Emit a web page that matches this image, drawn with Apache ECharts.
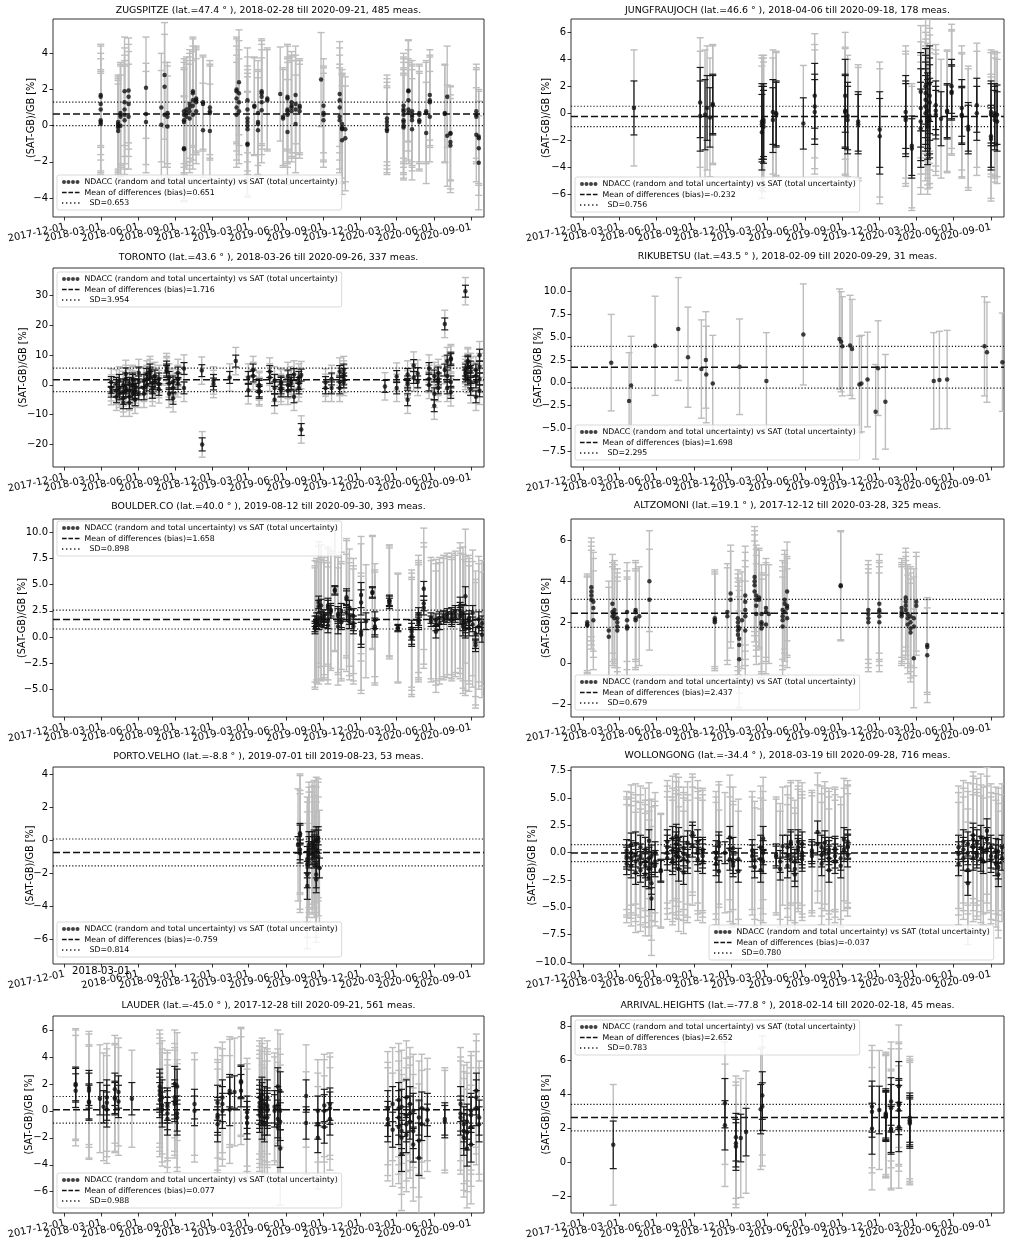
<!DOCTYPE html>
<html>
<head>
<meta charset="utf-8">
<script src="https://cdn.jsdelivr.net/npm/echarts@6/dist/echarts.min.js"></script>
<style>
html, body { margin: 0; padding: 0; background: #fff; }
#main { width: 1014px; height: 1248px; }
</style>
</head>
<body>
<div id="main"></div>
<script>
// quarterly date ticks on every x axis
var xTicks = ['2017-12-01', '2018-03-01', '2018-06-01', '2018-09-01', '2018-12-01', '2019-03-01',
              '2019-06-01', '2019-09-01', '2019-12-01', '2020-03-01', '2020-06-01', '2020-09-01'];
var xStart = '2017-11-02';
var xEnd = '2020-10-03';

var titles = [
    'ZUGSPITZE (lat.=47.4 ° ), 2018-02-28 till 2020-09-21, 485 meas.',
    'JUNGFRAUJOCH (lat.=46.6 ° ), 2018-04-06 till 2020-09-18, 178 meas.',
    'TORONTO (lat.=43.6 ° ), 2018-03-26 till 2020-09-26, 337 meas.',
    'RIKUBETSU (lat.=43.5 ° ), 2018-02-09 till 2020-09-29, 31 meas.',
    'BOULDER.CO (lat.=40.0 ° ), 2019-08-12 till 2020-09-30, 393 meas.',
    'ALTZOMONI (lat.=19.1 ° ), 2017-12-12 till 2020-03-28, 325 meas.',
    'PORTO.VELHO (lat.=-8.8 ° ), 2019-07-01 till 2019-08-23, 53 meas.',
    'WOLLONGONG (lat.=-34.4 ° ), 2018-03-19 till 2020-09-28, 716 meas.',
    'LAUDER (lat.=-45.0 ° ), 2017-12-28 till 2020-09-21, 561 meas.',
    'ARRIVAL.HEIGHTS (lat.=-77.8 ° ), 2018-02-14 till 2020-02-18, 45 meas.'
];
var biasVals = [0.651, -0.232, 1.716, 1.698, 1.658, 2.437, -0.759, -0.037, 0.077, 2.652];
var sdVals   = [0.653, 0.756, 3.954, 2.295, 0.898, 0.679, 0.814, 0.780, 0.988, 0.783];

var yTicks = [
    [-4, -2, 0, 2, 4],
    [-6, -4, -2, 0, 2, 4, 6],
    [-20, -10, 0, 10, 20, 30],
    [-7.5, -5, -2.5, 0, 2.5, 5, 7.5, 10],
    [-5, -2.5, 0, 2.5, 5, 7.5, 10],
    [-2, 0, 2, 4, 6],
    [-6, -4, -2, 0, 2, 4],
    [-10, -7.5, -5, -2.5, 0, 2.5, 5, 7.5],
    [-6, -4, -2, 0, 2, 4, 6],
    [-2, 0, 2, 4, 6, 8]
];
var yRanges = [[-5.05, 5.9], [-7.68, 6.99], [-27.6, 39.3], [-9.26, 12.6], [-7.65, 11.27],
               [-2.6, 7.02], [-7.52, 4.42], [-10.18, 7.84], [-7.58, 7.04], [-2.96, 8.63]];
var yDecimals = [0, 0, 0, 1, 1, 0, 0, 1, 0, 0];

// per station: [date, random unc., total unc., [differences in %]]
var zugspitze = [
    ['2018-02-28', 0, 2.8, [1.7, 1.6, 1.2, 0.9, 0.3, 0.2, 0.1]],
    ['2018-04-12', 0, 2.6, [0.1, 0.0, -0.1, -0.3, 0.2]],
    ['2018-04-18', 0, 2.8, [0.6, 0.5, 0.7, 0.0]],
    ['2018-04-28', 0, 3.0, [1.9, 1.3, 0.9, 0.6, 0.3]],
    ['2018-05-08', 0, 2.9, [1.95, 1.6, 1.2, 0.5]],
    ['2018-06-20', 0, 2.8, [2.1, 0.65, 0.2]],
    ['2018-07-28', 0, 3.0, [1.0, 0.05]],
    ['2018-08-05', 0, 2.9, [2.8, 2.15, 0.6]],
    ['2018-08-12', 0, 2.8, [0.7, 0.5, -0.05]],
    ['2018-09-22', 0, 2.9, [0.8, 0.6, 0.3, 0.2, -1.3, -1.25]],
    ['2018-09-28', 0, 2.9, [0.9, 0.7, 0.5]],
    ['2018-10-06', 0, 3.0, [1.0, 0.8, 1.2, 0.4]],
    ['2018-10-14', 0, 3.0, [1.4, 1.8, 1.9, 1.1, 0.6]],
    ['2018-10-22', 0, 2.9, [1.5, 1.4, 1.3, 0.8]],
    ['2018-11-08', 0, 2.6, [1.3, 1.2, -0.25]],
    ['2018-11-25', 0, 2.6, [1.0, 0.8, 0.7, -0.3]],
    ['2019-01-30', 0, 2.9, [2.0, 1.9, 1.5, 1.0, 0.6]],
    ['2019-02-05', 0, 2.9, [2.4, 1.3, 0.8, 1.8]],
    ['2019-02-26', 0, 2.9, [1.4, 0.9, 0.4, 0.2, 0.0, -0.2, -1.0, -1.05]],
    ['2019-03-15', 0, 2.7, [1.1, 1.05]],
    ['2019-03-24', 0, 2.9, [0.2, 0.1, -0.25, 0.7]],
    ['2019-04-02', 0, 2.9, [0.85, 1.3, 1.6, 1.8, 1.9]],
    ['2019-04-16', 0, 2.8, [1.5, 1.4]],
    ['2019-05-18', 0, 2.6, [1.75]],
    ['2019-05-25', 0, 2.7, [0.5, 0.4]],
    ['2019-06-05', 0, 2.9, [1.6, 1.5, 0.9, 0.8, 0.6, -0.35]],
    ['2019-06-15', 0, 2.8, [1.1, 1.3, 1.0, 0.8]],
    ['2019-06-25', 0, 2.7, [0.1, 1.7, 1.2, 0.9]],
    ['2019-07-05', 0, 2.6, [1.1, 1.0, 0.8]],
    ['2019-08-27', 0, 2.6, [2.55]],
    ['2019-09-02', 0, 2.6, [1.1, 0.7, 0.6, 0.3]],
    ['2019-10-12', 0, 2.9, [1.75, 1.4, 1.0, 0.5, 0.3]],
    ['2019-10-18', 0, 3.0, [0.1, -0.2, -0.8, -0.1, -0.15]],
    ['2019-10-26', 0, 2.9, [-0.2, -0.7]],
    ['2020-02-06', 0, 2.4, [0.4, 0.2, 0.0, -0.2, -0.3]],
    ['2020-03-18', 0, 2.9, [1.1, 0.9, 0.8, 0.6, 0.3, 0.2, 0.0, -0.1]],
    ['2020-03-30', 0, 2.8, [1.9, 1.95, 1.4, 0.9, 0.7]],
    ['2020-04-08', 0, 2.8, [0.6, 0.5, 0.3, -0.2, 0.8]],
    ['2020-04-26', 0, 2.7, [0.7, 0.6, 0.3, 0.2]],
    ['2020-05-13', 0, 2.8, [0.8, 0.7, -0.4]],
    ['2020-05-22', 0, 2.5, [1.7, 1.4, 1.3, 0.5]],
    ['2020-06-28', 0, 2.7, [0.7, 0.65]],
    ['2020-07-04', 0, 2.8, [1.6, -0.55]],
    ['2020-07-12', 0, 2.6, [-0.4, -0.45, -0.9, -1.1]],
    ['2020-09-14', 0, 2.6, [0.8, 0.6, 0.5, -0.5]],
    ['2020-09-20', 0, 2.6, [-0.6, -0.7, -2.05, -1.25]]
];

var jungfraujoch = [
    ['2018-04-06', 2.0, 4.3, [0.4]],
    ['2018-09-16', 2.6, 4.8, [-0.2, 0.8]],
    ['2018-09-28', 2.6, 4.8, [-0.1]],
    ['2018-10-03', 2.4, 4.6, [0.4]],
    ['2018-10-10', 2.2, 4.4, [-0.3]],
    ['2018-10-17', 2.2, 4.4, [0.6, 0.7]],
    ['2019-02-15', 2.8, 4.9, [-0.6, -0.8, -1.4]],
    ['2019-02-19', 2.7, 4.8, [-0.7, -1.0, -0.5]],
    ['2019-03-14', 2.4, 4.6, [-0.5, 0.1]],
    ['2019-03-22', 2.4, 4.6, [0.0, -0.1]],
    ['2019-05-28', 1.9, 4.3, [-0.75]],
    ['2019-06-25', 2.4, 4.6, [0.5, 0.1, 1.3]],
    ['2019-09-08', 2.7, 4.7, [1.3, 0.1, 0.2]],
    ['2019-09-14', 2.5, 4.5, [-0.2, -0.5]],
    ['2019-10-10', 2.2, 4.2, [-0.6, -0.8]],
    ['2019-12-02', 2.8, 5.0, [-1.2, -1.7]],
    ['2020-02-04', 2.7, 4.9, [-0.3, -0.5, 0.1]],
    ['2020-02-19', 2.2, 4.6, [-2.4, -2.6]],
    ['2020-03-12', 2.9, 4.9, [0.4, -0.6, -1.1, 1.6]],
    ['2020-03-24', 2.8, 5.0, [2.0, 1.5, 1.0, 0.5, 0.0]],
    ['2020-03-29', 2.8, 5.0, [-0.3, -0.6, -1.0, 0.2]],
    ['2020-04-03', 2.8, 5.0, [0.8, -0.2, 1.3, 2.2, -0.5]],
    ['2020-04-18', 1.8, 4.5, [0.6, 0.2, -0.1]],
    ['2020-05-01', 2.0, 4.4, [-0.4]],
    ['2020-05-16', 2.0, 4.5, [0.1, 0.2]],
    ['2020-05-27', 2.0, 4.6, [2.0, 1.5, 1.6]],
    ['2020-06-21', 2.1, 4.6, [0.4, -0.2, -0.1]],
    ['2020-07-07', 1.8, 4.5, [-1.0, -1.2]],
    ['2020-07-28', 2.0, 4.6, [0.6, 0.0]],
    ['2020-09-01', 2.3, 4.6, [0.1, -0.1, -1.7, -1.9]],
    ['2020-09-10', 2.2, 4.6, [-0.2, -0.5, 0.0]],
    ['2020-09-16', 2.2, 4.6, [-0.6, -0.1]]
];

var toronto = [
    ['2018-03-26', 1.8, 4.4, [1.0, -1.0, -2.3]],
    ['2018-04-08', 2.0, 4.6, [0.5, -2.0, -4.0]],
    ['2018-04-15', 2.0, 4.6, [1.5, -1.0, -3.0]],
    ['2018-04-25', 2.0, 4.6, [-6.0, -4.5, -2.5, 0.0]],
    ['2018-05-01', 2.0, 4.6, [2.0, -1.0, 3.7, -2.0]],
    ['2018-05-10', 2.0, 4.6, [-6.0, -4.0, -2.0, 0.5]],
    ['2018-05-18', 2.0, 4.6, [1.5, -3.0, 2.0, 0.0]],
    ['2018-05-24', 2.0, 4.6, [-5.0, -2.5, 0.0, -1.5]],
    ['2018-06-02', 2.0, 4.6, [4.0, 1.0, -3.0]],
    ['2018-06-15', 2.0, 4.6, [1.5, -1.0, -3.0]],
    ['2018-06-22', 2.0, 4.6, [0.0, 3.5, 2.0]],
    ['2018-06-30', 2.0, 4.6, [5.0, 4.0, 2.5]],
    ['2018-07-06', 2.0, 4.6, [0.5, -1.0, -2.5]],
    ['2018-07-12', 2.0, 4.6, [3.0, 1.0]],
    ['2018-07-22', 2.0, 4.6, [-1.5, 0.3, 2.0]],
    ['2018-08-10', 2.0, 4.6, [6.0, 5.0, 4.5]],
    ['2018-08-16', 2.0, 4.6, [0.5, -3.0, 2.5]],
    ['2018-08-26', 2.0, 4.6, [-1.0, -4.5, 1.0]],
    ['2018-09-07', 2.0, 4.6, [4.0, 2.0, 0.5]],
    ['2018-09-22', 2.0, 4.6, [5.5, -1.0]],
    ['2018-11-05', 2.0, 4.6, [4.8]],
    ['2018-11-06', 2.2, 4.3, [-20.0]],
    ['2018-12-04', 2.0, 4.6, [1.5, 0.3]],
    ['2019-01-13', 2.0, 4.6, [2.5]],
    ['2019-01-28', 2.0, 4.6, [8.0]],
    ['2019-02-28', 2.0, 4.6, [2.5, -1.8]],
    ['2019-03-12', 2.0, 4.6, [5.0, 3.0]],
    ['2019-03-27', 2.0, 4.6, [-0.5, -2.0, -2.5, 0.0]],
    ['2019-04-22', 2.0, 4.6, [4.5, 2.5]],
    ['2019-05-04', 2.0, 4.6, [1.5, -1.0, -5.0]],
    ['2019-05-20', 2.0, 4.6, [0.5, -1.0, -2.0, 1.0]],
    ['2019-06-06', 2.0, 4.6, [3.0, 0.0, -2.0]],
    ['2019-06-14', 2.0, 4.6, [1.5, 0.5]],
    ['2019-06-21', 2.0, 4.6, [3.5, -4.0]],
    ['2019-07-03', 2.0, 4.6, [2.5, 0.5, -1.0]],
    ['2019-07-09', 2.0, 4.6, [-15.0, 3.3]],
    ['2019-09-07', 2.0, 4.6, [-1.0, 0.8]],
    ['2019-09-22', 2.0, 4.6, [2.0, -1.0]],
    ['2019-10-12', 2.0, 4.6, [-1.0, 1.0, 4.5]],
    ['2019-10-22', 2.0, 4.6, [2.0, 1.0, 5.0, 3.5]],
    ['2020-02-01', 2.0, 4.6, [-0.5]],
    ['2020-03-01', 2.0, 4.6, [2.8, -1.0]],
    ['2020-03-28', 2.0, 4.6, [3.5, 1.0, 0.2, -5.0]],
    ['2020-04-12', 2.0, 4.6, [6.5, 2.5]],
    ['2020-04-22', 2.0, 4.6, [3.8, 1.0]],
    ['2020-05-20', 2.0, 4.6, [5.5, 2.0, 0.0]],
    ['2020-06-02', 2.0, 4.6, [-7.0, -3.0, 3.0]],
    ['2020-06-12', 2.0, 4.6, [1.0, 4.0, 2.0, -1.0]],
    ['2020-06-28', 2.0, 4.6, [20.5, 5.0]],
    ['2020-07-04', 2.0, 4.6, [8.0, 3.0, -1.0]],
    ['2020-07-13', 2.0, 4.6, [9.0, 8.5, -2.5, 1.0]],
    ['2020-08-18', 2.0, 4.6, [31.5, 5.0, 4.0, 3.0]],
    ['2020-08-24', 2.0, 4.6, [6.0, 7.5, 8.0, 2.0]],
    ['2020-08-31', 2.0, 4.6, [1.0, -1.5, 4.5, 6.0]],
    ['2020-09-13', 2.0, 4.6, [5.0, 3.0, 1.0, -4.0]],
    ['2020-09-22', 2.0, 4.6, [-2.0, 10.0, 6.0, 2.0]]
];

var rikubetsu = [
    ['2018-02-09', 0, 5.3, [2.2]],
    ['2018-03-25', 0, 5.3, [-2.0]],
    ['2018-03-30', 0, 5.4, [-0.3]],
    ['2018-05-28', 0, 5.45, [4.05]],
    ['2018-07-24', 0, 5.65, [5.9]],
    ['2018-08-17', 0, 5.5, [2.8]],
    ['2018-09-19', 0, 5.4, [1.5]],
    ['2018-09-30', 0, 5.3, [2.5]],
    ['2018-10-01', 0, 5.3, [0.9]],
    ['2018-10-17', 0, 5.3, [-0.1]],
    ['2018-12-22', 0, 5.25, [1.75]],
    ['2019-02-26', 0, 5.3, [0.2]],
    ['2019-05-28', 0, 5.55, [5.3]],
    ['2019-08-25', 0, 5.5, [4.8]],
    ['2019-08-29', 0, 5.5, [4.5]],
    ['2019-09-01', 0, 5.45, [4.0]],
    ['2019-09-20', 0, 5.5, [4.1]],
    ['2019-09-25', 0, 5.45, [3.7]],
    ['2019-10-13', 0, 5.3, [-0.2]],
    ['2019-10-18', 0, 5.3, [-0.1]],
    ['2019-11-02', 0, 5.2, [0.35]],
    ['2019-11-22', 0, 5.2, [-3.2]],
    ['2019-11-28', 0, 5.2, [1.6]],
    ['2019-12-16', 0, 5.2, [-2.1]],
    ['2020-04-13', 0, 5.3, [0.2]],
    ['2020-04-27', 0, 5.35, [0.3]],
    ['2020-05-16', 0, 5.4, [0.35]],
    ['2020-08-16', 0, 5.45, [4.0]],
    ['2020-08-22', 0, 5.5, [3.35]],
    ['2020-09-29', 0, 5.4, [2.25]]
];

var boulder = [
    ['2019-08-12', 0.5, 5.8, [1.5, 1.0, 0.8]],
    ['2019-08-16', 0.6, 5.8, [1.7, 1.4]],
    ['2019-08-21', 0.6, 5.8, [3.3, 2.9, 1.3]],
    ['2019-08-27', 0.6, 5.8, [1.8, 3.0, 1.6]],
    ['2019-09-03', 0.6, 5.6, [2.0, 1.7, 1.5]],
    ['2019-09-13', 0.7, 5.6, [3.0, 2.8, 1.5, 1.1]],
    ['2019-09-20', 0.6, 5.6, [2.6, 2.4]],
    ['2019-09-30', 0.4, 5.8, [4.5, 4.4]],
    ['2019-10-08', 0.7, 5.6, [2.2, 2.0, 1.0]],
    ['2019-10-16', 0.7, 5.6, [2.5, 1.6, 1.4]],
    ['2019-10-29', 0.8, 5.6, [3.6, 3.8, 2.3]],
    ['2019-11-05', 0.7, 5.6, [1.9, 2.8, 1.5]],
    ['2019-11-15', 0.7, 5.5, [1.0, 2.0, 1.3]],
    ['2019-12-04', 1.2, 5.6, [3.3, 4.0, 0.2, 0.5]],
    ['2019-12-16', 0.8, 5.4, [1.5]],
    ['2020-01-01', 0.5, 5.4, [4.3, 4.2]],
    ['2020-01-07', 0.8, 5.4, [1.6, 0.8, 1.0]],
    ['2020-02-12', 0.5, 5.3, [3.2, 3.5, 3.4]],
    ['2020-03-04', 0.3, 5.2, [0.9, 0.8]],
    ['2020-04-07', 0.8, 5.6, [0.8, 0.1, -0.1, 0.5]],
    ['2020-04-24', 0.6, 5.6, [1.7, 1.5, 2.2, 1.3]],
    ['2020-05-07', 0.7, 5.8, [4.6, 3.2, 2.8]],
    ['2020-05-25', 0.5, 5.8, [1.8, 1.5]],
    ['2020-06-06', 0.6, 5.8, [1.6, 1.2, 0.5]],
    ['2020-06-15', 0.6, 5.8, [1.3, 1.8]],
    ['2020-06-25', 0.5, 5.8, [1.7, 2.0]],
    ['2020-07-04', 0.5, 5.8, [2.2, 1.9]],
    ['2020-07-15', 0.6, 5.8, [1.8, 2.2, 1.6]],
    ['2020-07-24', 0.6, 5.8, [2.4, 2.0]],
    ['2020-08-05', 0.8, 6.0, [2.5, 3.0, 2.0]],
    ['2020-08-12', 0.9, 6.4, [1.5, 1.0, 2.2]],
    ['2020-08-18', 0.9, 6.4, [3.9, 0.8, 1.3]],
    ['2020-08-27', 0.7, 6.0, [1.8, 1.5, 0.8]],
    ['2020-09-05', 0.7, 6.0, [2.3, 1.2]],
    ['2020-09-12', 0.6, 6.0, [0.3, -0.5, -0.8]],
    ['2020-09-20', 0.7, 6.0, [1.0, 1.7]],
    ['2020-09-28', 0.7, 6.0, [1.3, 0.2]]
];

var altzomoni = [
    ['2017-12-12', 0, 2.35, [2.0, 1.9, 1.85]],
    ['2017-12-22', 0, 2.4, [3.7, 3.5, 3.3, 3.1]],
    ['2017-12-27', 0, 2.4, [3.0, 2.7, 2.1]],
    ['2018-02-03', 0, 2.4, [1.6, 1.3]],
    ['2018-02-12', 0, 2.4, [2.5, 2.3, 2.9]],
    ['2018-02-17', 0, 2.4, [2.4, 2.6, 2.2]],
    ['2018-02-24', 0, 2.4, [2.2, 1.8, 1.6, 2.0]],
    ['2018-03-20', 0, 2.4, [2.5, 2.1, 1.8, 1.7]],
    ['2018-04-10', 0, 2.4, [2.6, 2.5, 2.2, 2.1]],
    ['2018-04-19', 0, 2.4, [2.3]],
    ['2018-05-14', 0, 2.45, [4.0, 3.1]],
    ['2018-10-22', 0, 2.35, [2.2, 2.1, 2.0]],
    ['2018-11-22', 0, 2.35, [2.5, 2.3]],
    ['2018-11-30', 0, 2.35, [3.4, 3.1]],
    ['2018-12-18', 0, 2.35, [2.2, 2.0, 1.8, 1.6, 1.4]],
    ['2018-12-21', 0, 2.35, [1.2, 0.9, 0.2, 1.7]],
    ['2018-12-28', 0, 2.35, [2.1]],
    ['2019-01-05', 0, 2.4, [3.3, 3.0, 2.6, 2.3, 1.6]],
    ['2019-01-28', 0, 2.45, [4.2, 4.0, 3.8, 3.5]],
    ['2019-02-01', 0, 2.45, [3.3, 3.1, 2.8, 2.4]],
    ['2019-02-08', 0, 2.4, [3.2, 3.1]],
    ['2019-02-14', 0, 2.4, [2.4, 2.0, 1.9, 1.7]],
    ['2019-02-25', 0, 2.4, [2.7, 2.5, 1.9]],
    ['2019-03-04', 0, 2.4, [2.4]],
    ['2019-04-07', 0, 2.4, [1.8, 2.1, 2.3, 2.6]],
    ['2019-04-12', 0, 2.4, [2.9, 3.1, 2.5]],
    ['2019-04-18', 0, 2.4, [2.7, 3.5, 2.8, 2.2]],
    ['2019-08-28', 0, 2.65, [3.8, 3.75]],
    ['2019-11-04', 0, 2.4, [2.6, 2.4, 2.2, 2.0]],
    ['2019-12-01', 0, 2.4, [2.9, 2.6, 2.5, 2.3, 2.0]],
    ['2020-01-25', 0, 2.4, [2.7, 2.5, 2.3, 2.4]],
    ['2020-02-04', 0, 2.4, [3.2, 3.0, 2.8, 2.6]],
    ['2020-02-09', 0, 2.4, [2.4, 2.2, 1.9]],
    ['2020-02-16', 0, 2.4, [2.3, 2.0, 1.7, 1.5]],
    ['2020-02-24', 0, 2.4, [1.8, 0.25, 2.2]],
    ['2020-03-01', 0, 2.4, [3.0, 2.8]],
    ['2020-03-28', 0, 2.3, [0.9, 0.8, 0.4]]
];

var portoVelho = [
    ['2019-07-01', 0.5, 3.4, [-0.3]],
    ['2019-07-06', 0.6, 3.6, [0.4, 0.3, -0.6, -0.8]],
    ['2019-07-24', 0.8, 3.8, [-1.2, -1.5, -2.1, -2.8]],
    ['2019-07-28', 0.8, 3.8, [-0.9, -0.6, -0.3]],
    ['2019-08-05', 0.7, 3.7, [-0.5, -0.2, -0.8]],
    ['2019-08-10', 0.7, 3.7, [-1.0, -0.4, -0.1]],
    ['2019-08-15', 0.8, 3.8, [-1.5, -2.1, -2.4, -0.6, 0.0]],
    ['2019-08-20', 0.7, 3.6, [-0.1, 0.1, -1.0]],
    ['2019-08-23', 0.6, 3.5, [-1.7]]
];

var wollongong = [
    ['2018-03-19', 1.0, 5.4, [-0.5, -1.0, 0.2, -0.3]],
    ['2018-03-30', 1.1, 5.5, [0.7, -0.5, -1.2, 0.0]],
    ['2018-04-10', 1.1, 5.5, [0.8, -0.8, -1.8, -0.2]],
    ['2018-04-22', 1.1, 5.6, [-1.0, -1.6, -0.3, 0.5]],
    ['2018-05-04', 1.1, 5.6, [-0.8, -2.0, -1.2, 0.3]],
    ['2018-05-13', 1.0, 5.3, [1.1, -0.5, -1.5, -2.3]],
    ['2018-05-19', 1.0, 5.2, [-2.8, -4.2, -1.0, -0.3]],
    ['2018-05-28', 1.0, 5.5, [-0.8, -1.2, 0.0]],
    ['2018-06-11', 1.0, 5.2, [-1.7, -1.6]],
    ['2018-06-27', 1.1, 5.6, [0.5, 0.0, -0.5, 1.0]],
    ['2018-07-10', 1.1, 5.7, [1.3, 0.2, -0.6, -0.9]],
    ['2018-07-19', 1.1, 5.7, [0.8, 0.0, -0.3, 1.5]],
    ['2018-07-25', 1.1, 5.7, [1.2, -0.4, 0.3, -1.5]],
    ['2018-08-06', 1.1, 5.6, [0.4, -0.6, -1.8, -0.1]],
    ['2018-08-16', 1.1, 5.6, [0.9, -0.3, -0.8]],
    ['2018-08-28', 1.0, 5.4, [1.8, 1.5, 0.6]],
    ['2018-09-10', 1.1, 5.6, [0.0, -0.6, 1.0, 0.3]],
    ['2018-09-22', 1.1, 5.6, [-0.3, 0.3, -0.8, 0.1]],
    ['2018-10-25', 1.1, 5.6, [-0.5, -1.0, 0.0]],
    ['2018-11-01', 1.0, 5.6, [-1.7, 0.6, 0.9]],
    ['2018-11-16', 1.0, 5.5, [0.0]],
    ['2018-11-28', 1.0, 5.7, [1.4, 0.3, -0.6]],
    ['2018-12-06', 1.0, 5.6, [-0.9, 0.4, -1.2]],
    ['2018-12-19', 1.0, 5.5, [-0.6, -1.7]],
    ['2019-01-22', 1.0, 5.4, [-0.3, 0.2]],
    ['2019-01-28', 1.0, 5.4, [-1.3, -0.7]],
    ['2019-02-12', 1.1, 5.6, [0.5, -0.6, -1.6]],
    ['2019-02-18', 1.1, 5.6, [1.3, 0.0, -0.8]],
    ['2019-03-22', 1.0, 5.3, [-0.2, -0.4]],
    ['2019-04-01', 1.0, 5.3, [-0.8, -1.5]],
    ['2019-04-07', 1.0, 5.4, [0.6]],
    ['2019-04-19', 1.1, 5.6, [0.5, -0.3, -1.2]],
    ['2019-04-27', 1.1, 5.6, [0.8, 1.0, -0.6]],
    ['2019-05-07', 1.1, 5.6, [-0.8, -1.5, -2.0]],
    ['2019-05-15', 1.1, 5.6, [0.2, 1.0, 0.5]],
    ['2019-05-25', 1.1, 5.6, [0.0, -0.3, 0.8, -0.6]],
    ['2019-06-18', 1.0, 5.5, [-0.3, 0.0, 0.2]],
    ['2019-07-02', 1.0, 5.4, [1.9, 0.8]],
    ['2019-07-12', 1.1, 5.6, [0.5, -0.2, -1.0]],
    ['2019-07-20', 1.1, 5.6, [0.3, 0.9]],
    ['2019-07-30', 1.1, 5.6, [0.3, -0.5, -1.6, 0.0]],
    ['2019-08-14', 1.1, 5.6, [-0.3, -0.8, 0.2, 0.4]],
    ['2019-08-28', 1.1, 5.6, [-1.2, -0.5]],
    ['2019-09-05', 1.1, 5.6, [0.3, 1.2]],
    ['2019-09-14', 1.1, 5.6, [0.6, 1.0, 0.5, -0.2]],
    ['2020-06-13', 1.1, 5.6, [-0.1, -1.0, 0.5]],
    ['2020-06-25', 1.1, 5.6, [-0.5, 0.3, 1.0]],
    ['2020-07-06', 1.1, 5.6, [-1.6, -2.8, 0.0, 0.8]],
    ['2020-07-19', 1.1, 5.8, [-0.5, 0.5, 1.2, 1.6]],
    ['2020-07-28', 1.1, 5.8, [1.0, 0.0, -0.3]],
    ['2020-08-07', 1.1, 5.8, [-0.6, 0.4, 1.4]],
    ['2020-08-13', 1.1, 5.8, [0.2, -0.8]],
    ['2020-08-22', 1.1, 5.8, [2.0, 1.2, 0.3]],
    ['2020-09-01', 1.1, 5.8, [0.5, -0.3, -0.7]],
    ['2020-09-13', 1.1, 5.8, [0.2, -1.0, -0.4]],
    ['2020-09-19', 1.1, 5.8, [-2.0, -1.3, 0.1]],
    ['2020-09-28', 1.1, 5.8, [0.5, -0.5]]
];

var lauder = [
    ['2017-12-28', 1.25, 4.1, [2.0, 1.9, 1.5]],
    ['2018-01-30', 1.3, 4.2, [1.7, 1.5, 0.7, 0.6]],
    ['2018-02-26', 1.2, 4.0, [0.9]],
    ['2018-03-07', 1.2, 4.0, [0.3]],
    ['2018-03-15', 1.3, 4.0, [0.6, 0.1, 1.0]],
    ['2018-04-04', 1.2, 4.0, [1.6, 1.0, 0.9]],
    ['2018-04-13', 1.2, 4.0, [1.4, 0.7]],
    ['2018-05-16', 1.2, 3.6, [0.9]],
    ['2018-07-24', 1.3, 4.2, [1.8, 1.5, 1.2, 0.8]],
    ['2018-07-30', 1.3, 4.2, [0.4, 0.1, 1.0]],
    ['2018-08-12', 1.2, 4.0, [0.5, 0.3, -0.6, -0.2]],
    ['2018-08-30', 1.3, 4.0, [1.0, 0.7, 0.5, 2.0]],
    ['2018-09-05', 1.3, 4.0, [1.8, -0.2, -0.5]],
    ['2018-10-18', 1.1, 3.8, [0.5, 0.0]],
    ['2018-12-14', 1.3, 4.1, [-0.3, -0.5, -1.0, 0.6]],
    ['2018-12-26', 1.3, 4.1, [1.0, 0.5, 0.0]],
    ['2019-01-13', 1.2, 4.0, [1.5, 1.3, 0.1]],
    ['2019-01-25', 1.2, 4.0, [1.4]],
    ['2019-02-10', 1.2, 4.0, [2.2, 2.1, 1.5]],
    ['2019-02-25', 1.2, 4.0, [-0.1, -0.5, -0.9]],
    ['2019-03-28', 1.3, 4.2, [1.0, 0.6, 0.3, 0.0, -0.3]],
    ['2019-04-03', 1.3, 4.2, [-0.8, 1.2, 0.8, 0.2]],
    ['2019-04-09', 1.3, 4.2, [-0.5, -1.0, 0.5]],
    ['2019-04-16', 1.3, 4.2, [0.4, 0.0, -0.5, 1.0, 0.2]],
    ['2019-05-04', 1.2, 4.0, [0.3, 0.0]],
    ['2019-05-12', 1.4, 4.2, [1.8, 0.4, -0.6, -1.2]],
    ['2019-05-18', 1.4, 4.2, [-2.8, 1.5, 0.0, -0.8]],
    ['2019-07-21', 1.2, 3.8, [1.1, -0.9]],
    ['2019-08-19', 1.1, 3.8, [-2.0, -1.0, 0.0]],
    ['2019-09-04', 1.2, 3.8, [0.0, -1.2, 0.4]],
    ['2019-09-18', 1.2, 3.8, [0.5, 0.2, -0.6]],
    ['2020-02-08', 1.3, 4.2, [0.2, -0.6, -1.0]],
    ['2020-02-20', 1.3, 4.2, [-1.4, 0.5]],
    ['2020-03-06', 1.3, 4.2, [0.8, 0.2, -0.5, -1.2]],
    ['2020-03-13', 1.3, 4.2, [-2.0, -3.2, -1.5, 0.3]],
    ['2020-03-25', 1.3, 4.2, [1.0, -0.3, -1.0, -1.8]],
    ['2020-04-03', 1.3, 4.2, [0.5, -0.2, -0.8]],
    ['2020-04-11', 1.3, 4.2, [-1.5, -2.5, 0.0]],
    ['2020-04-25', 1.3, 4.2, [-2.2, -3.5, -0.5]],
    ['2020-05-02', 1.2, 4.0, [0.2, -1.0]],
    ['2020-05-16', 1.2, 3.8, [0.1, -0.7]],
    ['2020-06-28', 1.2, 3.8, [-0.6, -0.8]],
    ['2020-08-06', 1.3, 4.2, [0.5, -0.2, -0.5]],
    ['2020-08-14', 1.3, 4.4, [-1.0, -1.5, -2.0]],
    ['2020-08-22', 1.3, 4.4, [-0.8, -1.6, -2.8]],
    ['2020-09-01', 1.3, 4.4, [-2.5, -1.2, 0.0, -0.3]],
    ['2020-09-14', 1.3, 4.2, [1.5, 1.0, 0.2]],
    ['2020-09-21', 1.3, 4.2, [-0.5, -1.0]]
];

var arrivalHeights = [
    ['2018-02-14', 1.4, 3.55, [1.05]],
    ['2018-11-16', 1.45, 3.6, [2.2, 3.5]],
    ['2018-12-13', 1.4, 3.6, [1.5, 1.15, 0.95]],
    ['2018-12-25', 1.4, 3.5, [1.45]],
    ['2019-01-07', 1.4, 3.6, [1.8]],
    ['2019-02-12', 1.45, 3.55, [3.15]],
    ['2019-02-16', 1.4, 3.5, [3.95, 3.3]],
    ['2019-11-13', 1.5, 3.6, [3.3, 3.0, 2.0]],
    ['2019-12-01', 1.4, 3.5, [3.1]],
    ['2019-12-17', 1.45, 3.6, [2.8, 2.7, 2.9, 2.75]],
    ['2019-12-30', 1.4, 3.5, [3.6, 3.2, 2.0, 1.9]],
    ['2020-01-18', 1.45, 3.6, [3.4, 3.1, 3.5, 4.5, 2.1]],
    ['2020-02-14', 1.45, 3.6, [2.5, 2.4, 2.65, 2.3]]
];

var stations = [zugspitze, jungfraujoch, toronto, rikubetsu, boulder,
                altzomoni, portoVelho, wollongong, lauder, arrivalHeights];

// layout: plot rect [left, top, width, height], title centre y, legend [left, top], y-name gap
var gridRects = [
    [53, 19, 431, 198], [571, 19, 433, 198],
    [53, 268, 431, 199], [571, 268, 433, 199],
    [53, 519, 431, 198], [571, 519, 433, 198],
    [53, 767, 431, 197], [571, 767, 433, 197],
    [53, 1016, 431, 197], [571, 1016, 433, 197]
];
var titleY = [12, 12, 259, 258, 508, 507, 758, 757, 1007, 1007];
var legendPos = [[57, 175], [575, 177], [57, 272], [575, 425], [57, 521],
                 [575, 675], [57, 922], [709, 925], [57, 1173], [575, 1020]];
var nameGaps = [17, 20, 25, 28, 26, 20, 18, 34, 19, 20];
// PORTO.VELHO: its 2018-03-01 label is drawn unrotated in the original
var flatLabelPanel = 6, flatLabelDate = '2018-03-01';

var NDACC = 'NDACC (random and total uncertainty) vs SAT (total uncertainty)';
var FONT = 'DejaVu Sans';

function toTs(s) {
    var p = s.split('-');
    return Date.UTC(+p[0], +p[1] - 1, +p[2]);
}
var xTickTs = xTicks.map(toTs);
var xMin = toTs(xStart), xMax = toTs(xEnd);

function fmtDate(v) {
    var i = xTickTs.indexOf(v);
    return i >= 0 ? xTicks[i] : '';
}

// error bar with caps, drawn through the axis scales
function errorBar(color, width) {
    return function (params, api) {
        var x = api.value(0), y = api.value(1), e = api.value(2);
        var top = api.coord([x, y + e]);
        var bot = api.coord([x, y - e]);
        var c = 3.5;
        var st = { stroke: color, lineWidth: width };
        return {
            type: 'group',
            children: [
                { type: 'line', shape: { x1: top[0], y1: top[1], x2: bot[0], y2: bot[1] }, style: st },
                { type: 'line', shape: { x1: top[0] - c, y1: top[1], x2: top[0] + c, y2: top[1] }, style: st },
                { type: 'line', shape: { x1: bot[0] - c, y1: bot[1], x2: bot[0] + c, y2: bot[1] }, style: st }
            ]
        };
    };
}

var dotsIcon = 'path://M0,2a2,2 0 1,0 4,0a2,2 0 1,0 -4,0z M4.5,2a2,2 0 1,0 4,0a2,2 0 1,0 -4,0z M9,2a2,2 0 1,0 4,0a2,2 0 1,0 -4,0z M13.5,2a2,2 0 1,0 4,0a2,2 0 1,0 -4,0z';
var dashIcon = 'path://M0,0h4.6v1.5h-4.6z M6.4,0h4.6v1.5h-4.6z M12.8,0h4.6v1.5h-4.6z';
var dotIcon  = 'path://M0,0h1.1v1.1h-1.1z M3.5,0h1.1v1.1h-1.1z M7,0h1.1v1.1h-1.1z M10.5,0h1.1v1.1h-1.1z M14,0h1.1v1.1h-1.1z';

var grids = [], xAxes = [], yAxes = [], series = [], titleList = [], legends = [];
var X_ROT = 12, X_MARGIN = 10;

// label-only x axis (labels alternate between two axes so none get dropped)
function labelAxis(gi, values, rot, margin) {
    return {
        type: 'value', gridIndex: gi, min: xMin, max: xMax, position: 'bottom',
        axisLine: { show: false, onZero: false }, splitLine: { show: false }, axisTick: { show: false },
        axisLabel: { customValues: values, formatter: fmtDate, rotate: rot, margin: margin,
                     showMinLabel: true, showMaxLabel: true, hideOverlap: false,
                     fontSize: 10, color: '#000', fontFamily: FONT }
    };
}

stations.forEach(function (st, i) {
    var r = gridRects[i];
    grids.push({ left: r[0], top: r[1], width: r[2], height: r[3], show: true,
                 borderColor: '#333', borderWidth: 1, outerBoundsMode: 'none', containLabel: false });

    // main axis: ticks + every other label
    var mainIdx = xAxes.length;
    var evenTs = xTickTs.filter(function (t, k) { return k % 2 === 0; });
    var oddTs = xTickTs.filter(function (t, k) { return k % 2 === 1; });
    var flatTs = [];
    if (i === flatLabelPanel) {
        flatTs = [toTs(flatLabelDate)];
        oddTs = oddTs.filter(function (t) { return t !== flatTs[0]; });
    }
    xAxes.push({
        type: 'value', gridIndex: i, min: xMin, max: xMax, position: 'bottom',
        axisLine: { show: false, onZero: false }, splitLine: { show: false },
        axisTick: { customValues: xTickTs, length: 3.5, lineStyle: { color: '#000', width: 0.8 } },
        axisLabel: { customValues: evenTs, formatter: fmtDate, rotate: X_ROT, margin: X_MARGIN,
                     showMinLabel: true, showMaxLabel: true, hideOverlap: false,
                     fontSize: 10, color: '#000', fontFamily: FONT }
    });
    xAxes.push(labelAxis(i, oddTs, X_ROT, X_MARGIN));
    if (flatTs.length) xAxes.push(labelAxis(i, flatTs, 0, 2));

    var dec = yDecimals[i];
    yAxes.push({
        type: 'value', gridIndex: i, min: yRanges[i][0], max: yRanges[i][1],
        axisLine: { show: false, onZero: false }, splitLine: { show: false },
        axisTick: { customValues: yTicks[i], length: 3.5, lineStyle: { color: '#000', width: 0.8 } },
        axisLabel: {
            customValues: yTicks[i], margin: 5, fontSize: 10, color: '#000', fontFamily: FONT,
            showMinLabel: true, showMaxLabel: true, hideOverlap: false,
            formatter: function (v) {
                var s = Math.abs(v).toFixed(dec);
                return v < 0 ? '\u2212' + s : s;
            }
        },
        name: '(SAT-GB)/GB [%]', nameLocation: 'middle', nameGap: nameGaps[i], nameRotate: 90,
        nameMoveOverlap: false,
        nameTextStyle: { fontSize: 9.7, color: '#000', fontFamily: FONT }
    });

    titleList.push({
        text: titles[i], left: r[0] + r[2] / 2, top: titleY[i] - 5.5, textAlign: 'center', padding: 0,
        textStyle: { fontSize: 9.4, fontWeight: 'normal', color: '#000', fontFamily: FONT }
    });

    var pts = [];
    st.forEach(function (c) {
        var t = toTs(c[0]);
        c[3].forEach(function (v) { pts.push([t, v, c[1], c[2]]); });
    });

    series.push({
        type: 'custom', name: 'total', xAxisIndex: mainIdx, yAxisIndex: i, clip: true, silent: true, z: 2,
        renderItem: errorBar('#bdbdbd', 1.4),
        data: pts.map(function (p) { return [p[0], p[1], p[3]]; })
    });
    var rnd = pts.filter(function (p) { return p[2] > 0; });
    if (rnd.length) {
        series.push({
            type: 'custom', name: 'random', xAxisIndex: mainIdx, yAxisIndex: i, clip: true, silent: true, z: 3,
            renderItem: errorBar('#1a1a1a', 1.2),
            data: rnd.map(function (p) { return [p[0], p[1], p[2]]; })
        });
    }
    series.push({
        type: 'scatter', name: NDACC, xAxisIndex: mainIdx, yAxisIndex: i, z: 4, silent: true,
        symbolSize: 4.5, itemStyle: { color: '#111' },
        data: pts.map(function (p) { return [p[0], p[1]]; })
    });

    var b = biasVals[i], sd = sdVals[i];
    var biasName = 'Mean of differences (bias)=' + b.toFixed(3);
    var sdName = '  SD=' + sd.toFixed(3);
    series.push({
        type: 'line', name: biasName, xAxisIndex: mainIdx, yAxisIndex: i, z: 5, silent: true,
        symbol: 'none', itemStyle: { color: '#000' },
        lineStyle: { color: '#111', width: 1.5, type: [7, 3] },
        data: [[xMin, b], [xMax, b]]
    });
    [b - sd, b + sd].forEach(function (lv) {
        series.push({
            type: 'line', name: sdName, xAxisIndex: mainIdx, yAxisIndex: i, z: 5, silent: true,
            symbol: 'none', itemStyle: { color: '#000' },
            lineStyle: { color: '#111', width: 1.2, type: [1.2, 2] },
            data: [[xMin, lv], [xMax, lv]]
        });
    });

    var lp = legendPos[i];
    legends.push({
        left: lp[0], top: lp[1], orient: 'vertical', z: 10,
        itemWidth: 17.5, itemHeight: 4, itemGap: 2.5, itemTextGap: 5,
        padding: [3, 4, 3, 5], borderColor: '#cfcfcf', borderWidth: 0.8, borderRadius: 2,
        backgroundColor: 'rgba(255,255,255,0.8)', selectedMode: false,
        textStyle: { fontSize: 7.8, color: '#000', fontFamily: FONT },
        data: [
            { name: NDACC, icon: dotsIcon, itemStyle: { color: '#111', borderWidth: 0 } },
            { name: biasName, icon: dashIcon, itemStyle: { color: '#111', borderWidth: 0 } },
            { name: sdName, icon: dotIcon, itemStyle: { color: '#111', borderWidth: 0 } }
        ]
    });
});

var chart = echarts.init(document.getElementById('main'), null, { renderer: 'canvas' });
chart.setOption({
    backgroundColor: '#fff',
    animation: false,
    textStyle: { fontFamily: FONT },
    title: titleList,
    legend: legends,
    grid: grids,
    xAxis: xAxes,
    yAxis: yAxes,
    series: series
});
</script>
</body>
</html>
